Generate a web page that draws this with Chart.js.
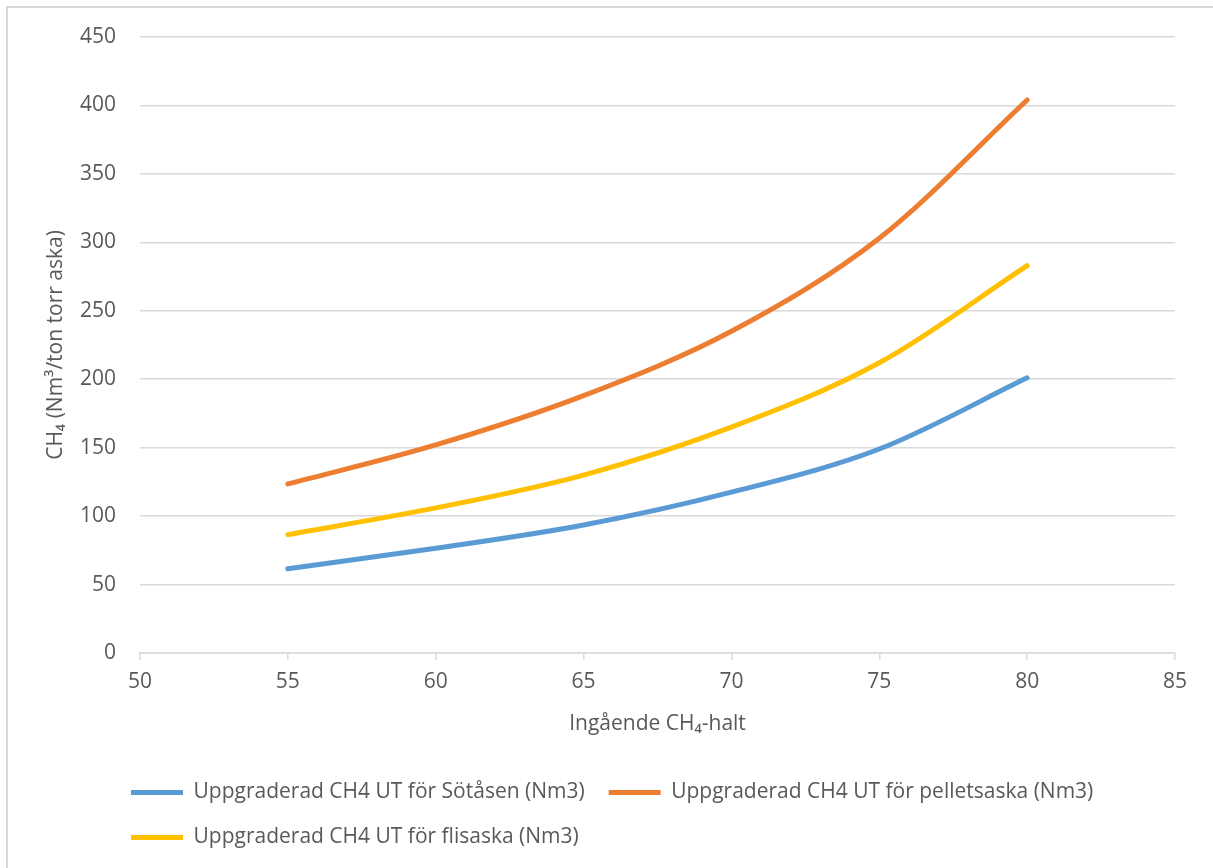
<!DOCTYPE html>
<html>
<head>
<meta charset="utf-8">
<script src="https://cdn.jsdelivr.net/npm/chart.js@4"></script>
<style>
  html, body { margin: 0; padding: 0; background: #fff; overflow: hidden; }
  #frame { position: absolute; left: 6px; top: 6px; width: 1400px; height: 1000px; border: 2px solid #d9d9d9; }
  #chart { position: absolute; left: 0; top: 0; }
</style>
</head>
<body>
<div id="frame"></div>
<canvas id="chart" width="1213" height="868"></canvas>
<script>
// ---------- DATA ----------
const inHalt = [55, 60, 65, 70, 75, 80];
const sotasen = [61.5, 76.5, 93.5, 117.5, 149, 201];
const pelletsaska = [123.5, 152, 188, 235, 303, 404];
const flisaska = [86.5, 106, 130, 165, 212, 283];
const xTicks = { min: 50, max: 85, step: 5 };
const yTicks = { min: 0, max: 450, step: 50 };

const grey = '#595959';
const gridGrey = '#d9d9d9';
const font = 'Open Sans';

function toPoints(values) {
  return inHalt.map((x, i) => ({ x: x, y: values[i] }));
}

function line(label, values, color) {
  return {
    label: label,
    data: toPoints(values),
    borderColor: color,
    backgroundColor: color,
    borderWidth: 5,
    borderCapStyle: 'round',
    pointRadius: 0,
    cubicInterpolationMode: 'monotone',
    fill: false
  };
}

// move legend so it starts under the plot like the excel one
const legendShift = {
  id: 'legendShift',
  afterLayout(chart) {
    chart.legend.left = 107;
  }
};

var ctx = document.getElementById('chart').getContext('2d');
var chart = new Chart(ctx, {
  type: 'line',
  data: {
    datasets: [
      line('Uppgraderad CH4 UT för Sötåsen (Nm3)', sotasen, '#5b9bd5'),
      line('Uppgraderad CH4 UT för pelletsaska (Nm3)', pelletsaska, '#ed7d31'),
      line('Uppgraderad CH4 UT för flisaska (Nm3)', flisaska, '#ffc000')
    ]
  },
  plugins: [legendShift],
  options: {
    responsive: false,
    animation: false,
    layout: {
      padding: { left: 30, top: 37, right: 38, bottom: 10 }
    },
    plugins: {
      legend: {
        display: true,
        position: 'bottom',
        align: 'start',
        labels: {
          color: grey,
          font: { family: font, size: 21 },
          usePointStyle: true,
          pointStyle: 'line',
          pointStyleWidth: 52,
          padding: 24
        }
      },
      tooltip: { enabled: false }
    },
    scales: {
      x: {
        type: 'linear',
        min: xTicks.min,
        max: xTicks.max,
        afterFit: function (scale) { scale.height = 105; },
        ticks: {
          stepSize: xTicks.step,
          color: grey,
          font: { family: font, size: 21 },
          padding: 9
        },
        grid: {
          drawOnChartArea: false,
          drawTicks: true,
          tickLength: 7,
          color: gridGrey,
          lineWidth: 1.5
        },
        border: { color: gridGrey, width: 1.5 },
        title: {
          display: true,
          text: 'Ingående CH₄-halt',
          color: grey,
          font: { family: font, size: 21 },
          padding: { top: 0, bottom: 21 }
        }
      },
      y: {
        type: 'linear',
        min: yTicks.min,
        max: yTicks.max,
        afterFit: function (scale) { scale.width = 110; },
        ticks: {
          stepSize: yTicks.step,
          color: grey,
          font: { family: font, size: 21 },
          padding: 24
        },
        grid: {
          drawTicks: false,
          color: gridGrey,
          lineWidth: 1.5
        },
        border: { display: false },
        title: {
          display: true,
          text: 'CH₄ (Nm³/ton torr aska)',
          color: grey,
          font: { family: font, size: 21 },
          padding: { top: 13, bottom: 0 }
        }
      }
    }
  }
});
</script>
</body>
</html>
